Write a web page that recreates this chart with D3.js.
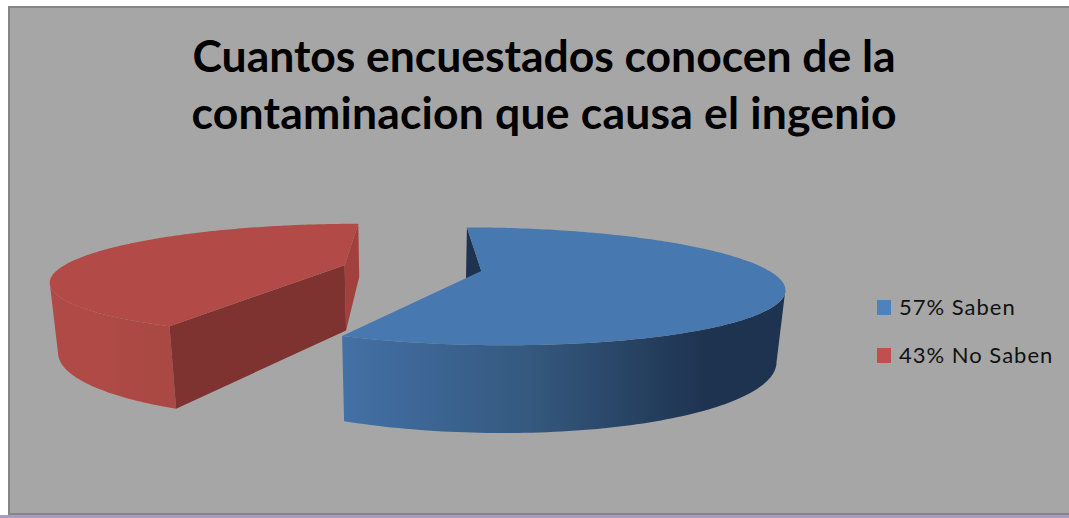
<!DOCTYPE html>
<html>
<head>
<meta charset="utf-8">
<style>
  html, body { margin: 0; padding: 0; background: #fff; }
  svg { display: block; }
  text { font-family: Lato, "Open Sans", sans-serif; }
</style>
<script src="https://cdn.jsdelivr.net/npm/d3@7/dist/d3.min.js"></script>
</head>
<body>
<svg id="chart" width="1069" height="518"></svg>
<script>
// Survey results
const categories = ["Saben", "No Saben"];
const percents = [57, 43];
const titleLines = ["Cuantos encuestados conocen de la", "contaminacion que causa el ingenio"];

// Colours per slice: legend key, top face, far wall, near wall, rim ramp
const keyColors = ["#4f81bd", "#c0504d"];
const topColors = ["#4878b0", "#b24b47"];
const farWallColors = ["#1e3350", "#a2403e"];
const nearWallColors = ["#3f6a9e", "#7f3331"];
const rimRamps = [
  ["#4370a6", "#35597f", "#1e3350", "#1e3350"],
  ["#af4a46", "#af4a46", "#aa4844", "#aa4844"]
];

const svg = d3.select("#chart");
const width = 1069, height = 518;

// Panel with its frame; the right edge runs off the page
svg.append("rect").attr("width", width).attr("height", height).attr("fill", "#fff");
svg.append("rect")
  .attr("x", 9).attr("y", 7).attr("width", width + 10).attr("height", height - 11)
  .attr("fill", "#a6a6a6").attr("stroke", "#858585").attr("stroke-width", 2);
svg.append("rect")
  .attr("x", 0).attr("y", height - 3).attr("width", width).attr("height", 3)
  .attr("fill", "#a99cc0");

// Title, each line set to its own measure
svg.append("g").selectAll("text").data(titleLines).join("text")
  .attr("x", 544)
  .attr("y", (d, i) => 72 + i * 57)
  .attr("text-anchor", "middle")
  .attr("font-size", 44.5)
  .attr("font-weight", 700)
  .attr("fill", "#000")
  .attr("textLength", (d, i) => (i ? 705 : 703))
  .attr("lengthAdjust", "spacing")
  .text(d => d);

// Perspective pie: the plane is tilted and seen from a camera above its centre
const cx = 412, cy = 268, radius = 284, explode = 70;
const camera = 1100, tilt = 0.188, depth = 67.5, shrink = 0.022;

function project(theta, r, z, origin) {
  const X = origin[0] + r * Math.sin(theta);
  const Y = origin[1] - r * Math.cos(theta);
  const s = 1 / (1 - Y / camera + shrink * z);
  return [cx + X * s, cy + (tilt * Y + depth * z) * s];
}

const pie = d3.pie().sort(null).value(d => d);
const arcs = pie(percents);
const line = d3.line();
const defs = svg.append("defs");

// Back slice first, so the front one overlaps it where they meet
[1, 0].forEach(i => {
  const a = arcs[i];
  const mid = (a.startAngle + a.endAngle) / 2;
  const origin = [explode * Math.sin(mid), -explode * Math.cos(mid)];
  const thetas = d3.range(0, 181).map(t => a.startAngle + (a.endAngle - a.startAngle) * t / 180);
  const rimTop = thetas.map(t => project(t, radius, 0, origin));

  // Only the stretch of rim between the outer silhouette and the near corner faces the viewer
  const xs = rimTop.map(p => p[0]);
  const front = i === 0
    ? thetas.slice(d3.maxIndex(xs))
    : thetas.slice(0, d3.minIndex(xs) + 1);
  const rimPoints = front.map(t => project(t, radius, 0, origin))
    .concat(front.slice().reverse().map(t => project(t, radius, 1, origin)));

  const gradId = "rim" + i;
  const grad = defs.append("linearGradient").attr("id", gradId)
    .attr("x1", 0).attr("x2", 1).attr("y1", 0).attr("y2", 0);
  grad.selectAll("stop").data(rimRamps[i]).join("stop")
    .attr("offset", (d, j) => [0, 0.42, 0.82, 1][j])
    .attr("stop-color", d => d);

  const g = svg.append("g");

  const wall = (theta, color) => g.append("path")
    .attr("fill", color)
    .attr("d", line([
      project(theta, 0, 0, origin),
      project(theta, radius, 0, origin),
      project(theta, radius, 1, origin),
      project(theta, 0, 1, origin)
    ]) + "Z");

  if (i === 0) {
    wall(a.startAngle, farWallColors[i]);
    g.append("path").attr("fill", `url(#${gradId})`).attr("d", line(rimPoints) + "Z");
  } else {
    g.append("path").attr("fill", `url(#${gradId})`).attr("d", line(rimPoints) + "Z");
    wall(a.endAngle, farWallColors[i]);
    wall(a.startAngle, nearWallColors[i]);
  }

  g.append("path").attr("fill", topColors[i])
    .attr("d", line([project(0, 0, 0, origin)].concat(rimTop)) + "Z");
});

// Legend
const legendY = d3.scalePoint().domain(categories).range([308, 356]);
const legend = svg.append("g").selectAll("g").data(categories).join("g")
  .attr("transform", d => `translate(877,${legendY(d)})`);
legend.append("rect")
  .attr("y", -8).attr("width", 14).attr("height", 15)
  .attr("fill", (d, i) => keyColors[i]);
legend.append("text")
  .attr("x", 22).attr("y", 7)
  .attr("font-size", 22)
  .attr("letter-spacing", 1)
  .attr("fill", "#111")
  .text((d, i) => `${percents[i]}% ${d}`);
</script>
</body>
</html>
